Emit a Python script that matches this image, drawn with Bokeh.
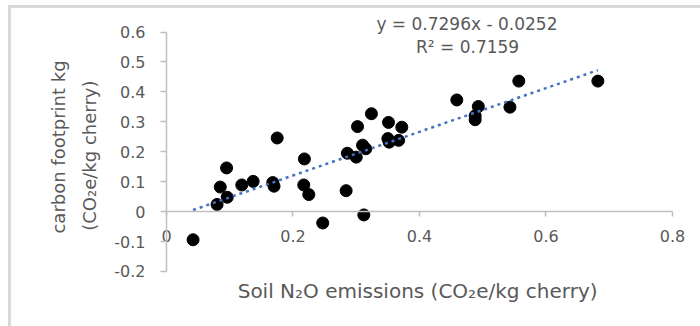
from math import pi
from bokeh.plotting import figure
from bokeh.models import Label, FixedTicker, Range1d, ColumnDataSource
from bokeh.embed import file_html
from bokeh.resources import INLINE

# ---- data ----
n2o = [0.042, 0.080, 0.085, 0.095, 0.096, 0.119, 0.137, 0.168, 0.170, 0.175,
       0.218, 0.217, 0.225, 0.247, 0.312, 0.284, 0.286, 0.300, 0.302, 0.310,
       0.315, 0.324, 0.351, 0.350, 0.352, 0.367, 0.372, 0.459, 0.493, 0.488,
       0.488, 0.557, 0.543, 0.682]
footprint = [-0.094, 0.024, 0.082, 0.146, 0.048, 0.089, 0.101, 0.097, 0.085, 0.246,
             0.176, 0.089, 0.057, -0.038, -0.011, 0.070, 0.195, 0.182, 0.284, 0.222,
             0.210, 0.327, 0.298, 0.244, 0.232, 0.238, 0.282, 0.373, 0.351, 0.320,
             0.307, 0.436, 0.349, 0.436]
x_ticks = [0, 0.2, 0.4, 0.6, 0.8]
x_tick_labels = ["0", "0.2", "0.4", "0.6", "0.8"]
y_ticks = [-0.2, -0.1, 0, 0.1, 0.2, 0.3, 0.4, 0.5, 0.6]
y_tick_labels = ["-0.2", "-0.1", "0", "0.1", "0.2", "0.3", "0.4", "0.5", "0.6"]
slope = 0.7296
intercept = -0.0252
r_squared = 0.7159
x_title = "Soil N\u2082O emissions (CO\u2082e/kg cherry)"
y_title_1 = "carbon footprint kg"
y_title_2 = "(CO\u2082e/kg cherry)"

FONT = "DejaVu Sans"
TXT = "#595959"
AXC = "#bfbfbf"
BORDER = "#d9d9d9"

# the plotting frame fills the whole canvas; the axes sit at x=0 / y=0 inside it
p = figure(width=700, height=326, output_backend="svg", toolbar_location=None,
           x_range=Range1d(-0.26245, 0.84427), y_range=Range1d(-0.38372, 0.70522),
           min_border=0)
p.border_fill_color = None
p.background_fill_color = None
p.outline_line_color = None
p.grid.visible = False
p.styles = {
    "background": (f"linear-gradient({BORDER},{BORDER}) 8px 5px / 3px 100% no-repeat, "
                   f"linear-gradient({BORDER},{BORDER}) 8px 5px / 100% 3px no-repeat, white"),
}

# axes
p.xaxis.fixed_location = 0
p.yaxis.fixed_location = 0
p.xaxis.bounds = (x_ticks[0], x_ticks[-1])
p.yaxis.bounds = (y_ticks[0], y_ticks[-1])
p.xaxis.ticker = FixedTicker(ticks=x_ticks)
p.xaxis.major_label_overrides = dict(zip(x_ticks, x_tick_labels))
p.yaxis.ticker = FixedTicker(ticks=y_ticks)
p.yaxis.major_label_overrides = dict(zip(y_ticks, y_tick_labels))
for ax in (p.xaxis, p.yaxis):
    ax.axis_line_color = AXC
    ax.axis_line_width = 1.5
    ax.major_tick_line_color = AXC
    ax.major_tick_line_width = 1.5
    ax.major_tick_in = 0
    ax.minor_tick_line_color = None
    ax.major_label_text_font = FONT
    ax.major_label_text_font_size = "16px"
    ax.major_label_text_color = TXT
p.xaxis.major_tick_out = 5
p.xaxis.major_label_standoff = 13
p.yaxis.major_tick_out = 6
p.yaxis.major_label_standoff = 15

src = ColumnDataSource(dict(x=n2o, y=footprint))
p.scatter("x", "y", source=src, size=12, fill_color="black", line_color="black")

# linear trendline from the displayed equation
tx = [min(n2o), max(n2o)]
ty = [slope * v + intercept for v in tx]
p.line(tx, ty, line_color="#4472C4", line_width=2.5, line_dash="3 4")

eq = f"y = {slope}x - {abs(intercept)}"
r2 = f"R\u00b2 = {r_squared}"
common = dict(text_align="center", text_baseline="middle", text_font=FONT, text_color=TXT)
p.add_layout(Label(x=0.475, y=0.628, text=eq, text_font_size="17px", **common))
p.add_layout(Label(x=0.476, y=0.549, text=r2, text_font_size="17px", **common))
p.add_layout(Label(x=0.397, y=-0.2635, text=x_title, text_font_size="20px", **common))
p.add_layout(Label(x=-0.1715, y=0.216, text=y_title_1, angle=pi / 2, text_font_size="18px", **common))
p.add_layout(Label(x=-0.1225, y=0.187, text=y_title_2, angle=pi / 2, text_font_size="18px", **common))

open("out.html", "w").write(file_html(p, INLINE))
